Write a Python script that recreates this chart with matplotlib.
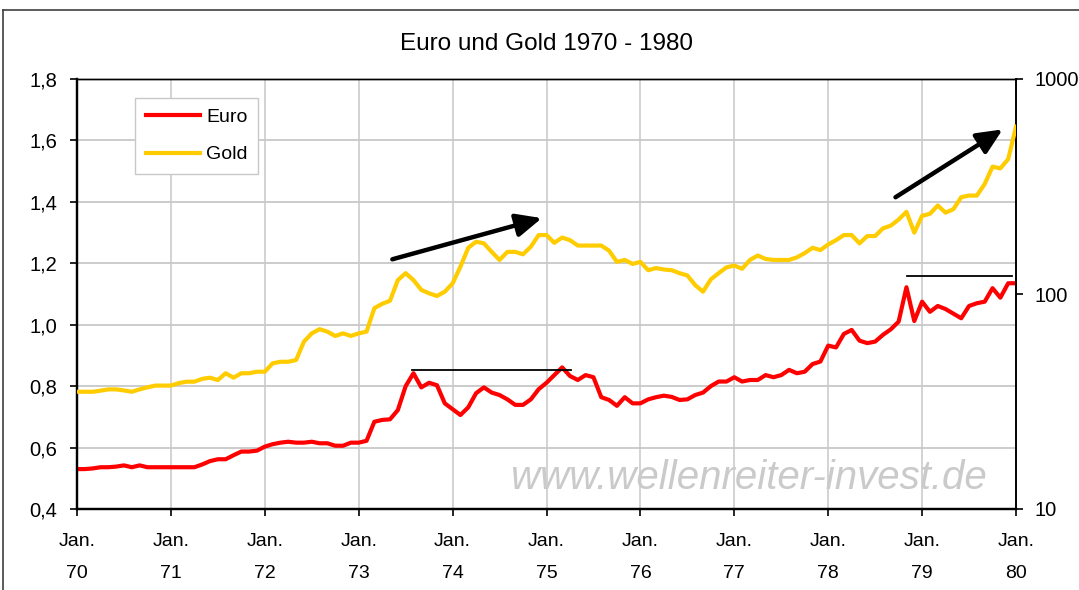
import numpy as np
import matplotlib
matplotlib.use("Agg")
import matplotlib.pyplot as plt
from matplotlib.lines import Line2D
from matplotlib.ticker import FixedLocator, NullLocator, FixedFormatter

plt.rcParams['font.family'] = ['Liberation Sans', 'DejaVu Sans']

# ---------------- data (monthly, Jan 1970 .. Jan 1980) ----------------
euro = [
    0.530, 0.530, 0.532, 0.536, 0.536, 0.538, 0.542, 0.536, 0.542, 0.536,
    0.536, 0.536, 0.536, 0.536, 0.536, 0.536, 0.545, 0.556, 0.562, 0.562,
    0.575, 0.587, 0.587, 0.590, 0.603, 0.611, 0.616, 0.619, 0.616, 0.616,
    0.619, 0.614, 0.614, 0.606, 0.606, 0.616, 0.616, 0.622, 0.684, 0.690,
    0.692, 0.722, 0.800, 0.842, 0.796, 0.811, 0.803, 0.744, 0.725, 0.706,
    0.731, 0.777, 0.796, 0.779, 0.771, 0.757, 0.739, 0.739, 0.757, 0.790,
    0.811, 0.836, 0.861, 0.833, 0.820, 0.836, 0.829, 0.764, 0.755, 0.736,
    0.764, 0.744, 0.744, 0.757, 0.764, 0.769, 0.765, 0.755, 0.757, 0.771,
    0.779, 0.800, 0.815, 0.815, 0.829, 0.815, 0.820, 0.820, 0.836, 0.829,
    0.836, 0.853, 0.842, 0.847, 0.872, 0.880, 0.932, 0.926, 0.970, 0.983,
    0.948, 0.940, 0.945, 0.967, 0.985, 1.010, 1.122, 1.012, 1.075, 1.042,
    1.061, 1.051, 1.036, 1.021, 1.061, 1.070, 1.075, 1.119, 1.088, 1.135,
    1.135,
]
gold = [
    35.1, 35.1, 35.1, 35.5, 36.0, 36.0, 35.6, 35.1, 36.0, 36.8,
    37.5, 37.5, 37.5, 38.5, 39.1, 39.1, 40.3, 40.8, 39.8, 42.8,
    40.8, 42.8, 42.8, 43.5, 43.5, 47.6, 48.4, 48.4, 49.3, 60.0,
    65.6, 68.6, 66.8, 63.8, 65.6, 63.8, 65.6, 66.8, 85.9, 90.0,
    93.0, 116, 125, 116, 104.5, 100.7, 97.9, 102.5, 112, 134,
    164, 175, 172, 157, 144, 157, 157, 153, 166, 188,
    188, 173, 183, 178, 168, 168, 168, 168, 159, 141,
    144, 138, 141, 129, 132, 130, 129, 125, 122, 110,
    102.5, 117, 125, 133, 135.6, 131, 144, 151, 145.5, 144,
    144, 144, 148, 155, 164, 160, 170, 178, 188, 188,
    172, 186, 186, 202, 208, 222, 241, 193, 231, 236,
    258, 239, 248, 282, 287, 287, 325, 391, 384, 424,
    600,
]
year_labels = ['70', '71', '72', '73', '74', '75', '76', '77', '78', '79', '80']
left_ticks = [0.4, 0.6, 0.8, 1.0, 1.2, 1.4, 1.6, 1.8]
right_ticks = [10, 100, 1000]
series_names = ['Euro', 'Gold']
title = 'Euro und Gold 1970 - 1980'
watermark = 'www.wellenreiter-invest.de'

months = np.arange(len(euro))

# ---------------- figure ----------------
W, H = 1079, 590
fig = plt.figure(figsize=(W / 100, H / 100), dpi=100)
fig.patch.set_facecolor('white')

x0, x1, y0, y1 = 77, 1016, 79, 509
ax = fig.add_axes([x0 / W, 1 - y1 / H, (x1 - x0) / W, (y1 - y0) / H])
ax2 = ax.twinx()

GRID = '#c8c8c8'
for v in left_ticks[1:-1]:
    ax.axhline(v, color=GRID, lw=1.3, zorder=0)
for m in range(12, 120, 12):
    ax.axvline(m, color=GRID, lw=1.1, zorder=0)

l1, = ax.plot(months, euro, color='#ff0000', lw=3.0, solid_joinstyle='round',
              solid_capstyle='projecting', zorder=3)
l2, = ax2.plot(months, gold, color='#ffcc00', lw=3.0, solid_joinstyle='round',
               solid_capstyle='projecting', zorder=3)

ax.set_xlim(0, 120)
ax.set_ylim(0.4, 1.8)
ax2.set_yscale('log')
ax2.set_ylim(10, 1000)

ax.xaxis.set_major_locator(FixedLocator(range(0, 121, 12)))
ax.set_xticklabels([f'Jan.\n{y}' for y in year_labels], linespacing=2.2)
ax.yaxis.set_major_locator(FixedLocator(left_ticks))
ax.set_yticklabels([f'{v:.1f}'.replace('.', ',') for v in left_ticks])
ax2.yaxis.set_major_locator(FixedLocator(right_ticks))
ax2.yaxis.set_minor_locator(NullLocator())
ax2.yaxis.set_major_formatter(FixedFormatter([str(v) for v in right_ticks]))

ax.tick_params(axis='x', direction='out', length=5, width=1.2, labelsize=14, pad=12, colors='black')
ax.tick_params(axis='y', direction='out', length=5, width=1.2, labelsize=14.5, pad=9)
ax2.tick_params(axis='y', direction='out', length=5, width=1.2, labelsize=14.5, pad=8)

for a in (ax, ax2):
    for s in a.spines.values():
        s.set_color('black')
    a.spines['left'].set_linewidth(1.6)
    a.spines['bottom'].set_linewidth(1.6)
    a.spines['top'].set_linewidth(1.0)
    a.spines['right'].set_linewidth(1.2)

# annotations: trend arrows and horizontal reference lines (left-axis coordinates)
arrow_kw = dict(arrowstyle='-|>,head_length=1.1,head_width=0.5', color='black',
                lw=3.2, mutation_scale=14, shrinkA=0, shrinkB=0)
ax2.annotate('', xy=(59.4, 1.347), xytext=(40.3, 1.213), xycoords=ax.transData,
             textcoords=ax.transData, arrowprops=arrow_kw, zorder=5)
ax2.annotate('', xy=(118.3, 1.636), xytext=(104.6, 1.415), xycoords=ax.transData,
             textcoords=ax.transData, arrowprops=arrow_kw, zorder=5)
ax.plot([42.8, 63.1], [0.853, 0.853], color='black', lw=1.3, zorder=4)
ax.plot([106.1, 119.5], [1.159, 1.159], color='black', lw=1.3, zorder=4)

# watermark
ax.text(0.7157, 0.072, watermark, transform=ax.transAxes, ha='center', va='center',
        fontsize=29, style='italic', color='#cacaca', zorder=1)

# legend
leg = ax2.legend(handles=[l1, l2], labels=series_names, loc='upper left',
                 bbox_to_anchor=((135 - x0) / (x1 - x0), (y1 - 98) / (y1 - y0)),
                 borderaxespad=0, fontsize=14, frameon=True, fancybox=False,
                 edgecolor='#c8c8c8', framealpha=1, handlelength=2.8,
                 handletextpad=0.3, borderpad=0.55, labelspacing=1.0)
leg.get_frame().set_linewidth(1.0)
for ln in leg.get_lines():
    ln.set_linewidth(3.0)

# title
fig.text((x0 + x1) / 2 / W, 1 - 44 / H, title, ha='center', va='center', fontsize=17.5)

# outer chart frame (partially visible)
fig.add_artist(Line2D([3 / W, 1], [1 - 10 / H, 1 - 10 / H], color='#404040', lw=1.2,
                      transform=fig.transFigure))
fig.add_artist(Line2D([3 / W, 3 / W], [0, 1 - 10 / H], color='#404040', lw=1.2,
                      transform=fig.transFigure))

fig.savefig('out.png', dpi=100)
